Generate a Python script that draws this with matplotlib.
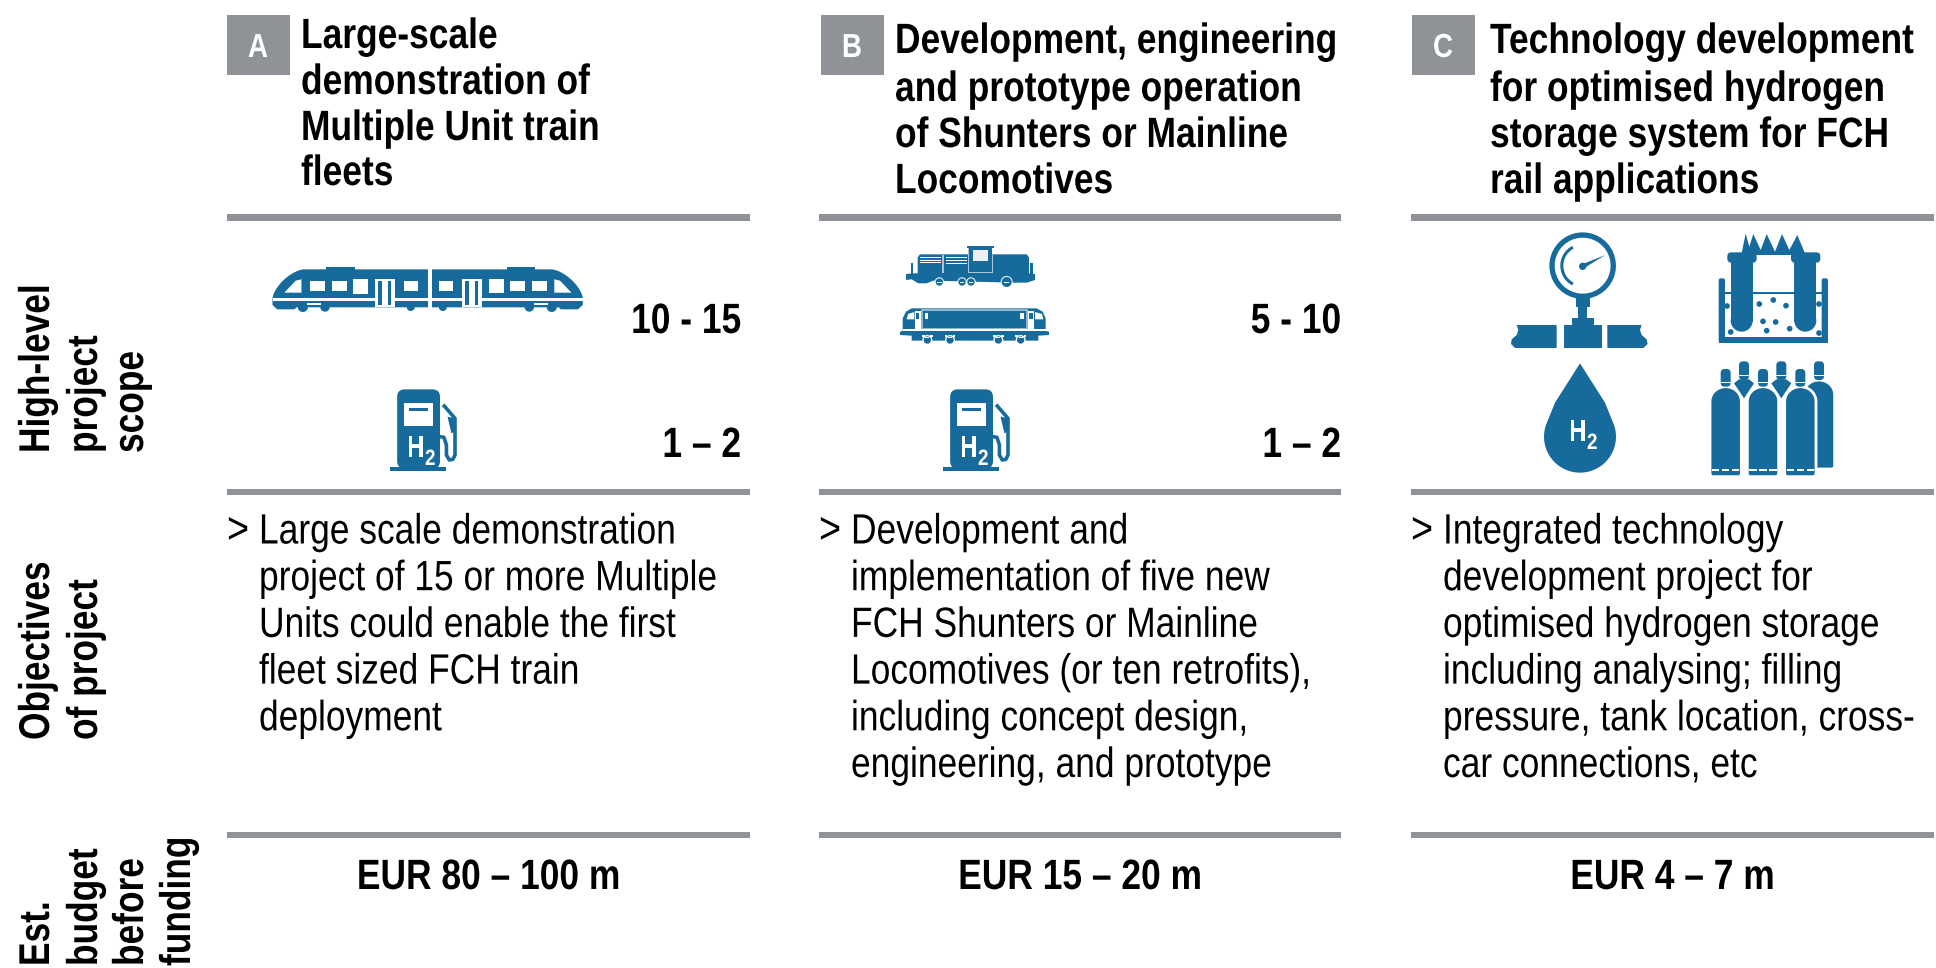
import numpy as np
import matplotlib
matplotlib.use("Agg")
import matplotlib.pyplot as plt
from matplotlib.patches import Rectangle, Polygon, FancyBboxPatch, Wedge
from matplotlib.patheffects import AbstractPathEffect
from matplotlib.text import Text
from matplotlib.transforms import Affine2D, Bbox

BLUE = "#176b9c"
GREY = "#8f9398"
FONT = "Liberation Sans"
SQUEEZE = 0.835

letters = ["A", "B", "C"]
titles = [
    ["Large-scale", "demonstration of", "Multiple Unit train", "fleets"],
    ["Development, engineering", "and prototype operation", "of Shunters or Mainline", "Locomotives"],
    ["Technology development", "for optimised hydrogen", "storage system for FCH", "rail applications"],
]
scope_top = ["10 - 15", "5 - 10", None]
scope_bottom = ["1 – 2", "1 – 2", None]
objectives = [
    ["Large scale demonstration", "project of 15 or more Multiple", "Units could enable the first",
     "fleet sized FCH train", "deployment"],
    ["Development and", "implementation of five new", "FCH Shunters or Mainline",
     "Locomotives (or ten retrofits),", "including concept design,", "engineering, and prototype"],
    ["Integrated technology", "development project for", "optimised hydrogen storage",
     "including analysing; filling", "pressure, tank location, cross-", "car connections, etc"],
]
budgets = ["EUR 80 – 100 m", "EUR 15 – 20 m", "EUR 4 – 7 m"]
row_labels = [["High-level", "project", "scope"], ["Objectives", "of project"],
              ["Est.", "budget", "before", "funding"]]

col_left = [227, 819, 1411]
col_right = [750, 1341, 1934]
box_left = [227, 821, 1412]
title_x = [301, 895, 1490]
title_base = [[48, 94, 140, 185], [53, 101, 147, 193], [53, 101, 147, 193]]
scope_right = [741, 1341]
rule_y = [217, 492, 835]
label_bottom = [453, 740, 966]
label_x = [49, 97, 143, 190]

fig = plt.figure(figsize=(19.36, 9.68), dpi=100)
ax = fig.add_axes([0, 0, 1, 1])
ax.set_xlim(0, 1936)
ax.set_ylim(968, 0)
ax.axis("off")


# no narrow font is installed, so the glyph outlines get squeezed at draw time
class Squeeze(AbstractPathEffect):
    def __init__(self, sx):
        super().__init__()
        self.sx = sx

    def draw_path(self, renderer, gc, tpath, affine, rgbFace=None):
        renderer.draw_path(gc, tpath, Affine2D().scale(self.sx, 1) + affine, rgbFace)


class NarrowText(Text):
    def __init__(self, *args, sx=SQUEEZE, **kwargs):
        super().__init__(*args, **kwargs)
        self.sx = sx
        self.set_path_effects([Squeeze(sx)])

    def _get_layout(self, renderer):
        bbox, info, descent = super()._get_layout(renderer)
        s = self.sx
        if self.get_rotation() == 90:
            bbox = Bbox.from_bounds(bbox.x0, bbox.y0 * s, bbox.width, bbox.height * s)
            return bbox, info, descent
        bbox = Bbox.from_bounds(bbox.x0 * s, bbox.y0, bbox.width * s, bbox.height)
        return bbox, [(l, wh, x * s, y) for l, wh, x, y in info], descent


def ntext(x, y, s, size=30.5, weight="normal", ha="left", color="black", z=3, sx=SQUEEZE, rot=0):
    ax.add_artist(NarrowText(x, y, s, sx=sx, fontsize=size, family=FONT, weight=weight, ha=ha, va="baseline",
                             color=color, zorder=z, rotation=rot, rotation_mode="anchor"))


def zoom_tr(x0, y0, kx, ky):
    return Affine2D().scale(1 / kx, 1 / ky).translate(x0, y0) + ax.transData


def rect(tr, x0, y0, x1, y1, c=BLUE, z=3):
    ax.add_patch(Rectangle((x0, y0), x1 - x0, y1 - y0, fc=c, ec="none", transform=tr, zorder=z))


def poly(tr, pts, c=BLUE, z=3):
    ax.add_patch(Polygon(pts, closed=True, fc=c, ec="none", transform=tr, zorder=z))


def circ(tr, x, y, r, c=BLUE, z=3):
    t = np.linspace(0, 2 * np.pi, 40)
    poly(tr, np.c_[x + r * np.cos(t), y + r * np.sin(t)], c, z)


def rbox(tr, x0, y0, x1, y1, r, c=BLUE, z=3):
    ax.add_patch(FancyBboxPatch((x0 + r, y0 + r), x1 - x0 - 2 * r, y1 - y0 - 2 * r,
                                boxstyle=f"round,pad={r},rounding_size={r}", fc=c, ec="none",
                                transform=tr, zorder=z))


def h2(x, y):
    ntext(x, y, "H", 22, "bold", "right", "white", 6, 0.78)
    ntext(x + 1, y + 8, "2", 16, "bold", "left", "white", 6, 0.85)


def draw_train():
    tr = zoom_tr(200, 200, 2.8, 3)
    t = np.linspace(0, np.pi / 2, 12)
    nose_l = np.c_[290 - 87 * np.cos(t) ** 1.3, 295 - 87 * np.sin(t) ** 1.3]
    nose_r = np.c_[985 + 87 * np.sin(t) ** 1.3, 295 - 87 * np.cos(t) ** 1.3]
    low = [[1072, 315], [1058, 328], [1010, 328], [1005, 322], [640, 322], [270, 322], [265, 328],
           [216, 328], [203, 315]]
    poly(tr, np.vstack([nose_l, nose_r, low]))
    rect(tr, 353, 200, 433, 210)
    rect(tr, 860, 200, 938, 210)
    for x0, y0, x1, y1 in [(308, 243, 349, 274), (370, 243, 411, 274), (428, 237, 469, 283),
                           (570, 243, 611, 274), (668, 243, 709, 274), (810, 237, 850, 279),
                           (868, 243, 909, 274), (930, 243, 971, 274)]:
        rect(tr, x0, y0, x1, y1, "white", 4)
    poly(tr, [(236, 278), (284, 278), (284, 238), (268, 242)], "white", 4)
    poly(tr, [(1040, 278), (992, 278), (992, 238), (1008, 242)], "white", 4)
    rect(tr, 203, 294, 1072, 302, "white", 4)
    rect(tr, 637, 208, 650, 332, "white", 5)
    for dx in (495, 739):
        rect(tr, dx - 5, 238, dx + 50, 320, "white", 4)
        rect(tr, dx + 4, 244, dx + 14, 314, BLUE, 5)
        rect(tr, dx + 30, 244, dx + 40, 314, BLUE, 5)
    for x, r in [(288, 14), (350, 13), (590, 11), (680, 11), (922, 13), (985, 14)]:
        circ(tr, x, 322, r, z=5)
    rect(tr, 300, 309, 340, 316, "white", 5)
    rect(tr, 935, 309, 975, 316, "white", 5)


def draw_pump(dx):
    tr = zoom_tr(200 + dx, 200, 2.8, 3)
    rbox(tr, 552, 568, 672, 806, 22)
    rect(tr, 532, 802, 690, 812)
    rect(tr, 571, 610, 652, 677, "white", 4)
    rect(tr, 584, 624, 638, 634, BLUE, 5)
    hose = np.array([[672, 710], [683, 712], [690, 735], [690, 765], [698, 780], [708, 778],
                     [714, 765], [714, 655], [684, 618]])
    ax.plot(hose[:, 0], hose[:, 1], color=BLUE, lw=2.6, transform=tr, zorder=3)
    poly(tr, [(693, 650), (716, 655), (714, 695), (704, 700)])
    h2(424 + dx, 457)


def draw_locos():
    tr = zoom_tr(880, 220, 3, 3)
    # shunter
    poly(tr, [(113, 112), (120, 103), (440, 103), (447, 112), (447, 160), (465, 162), (465, 180),
              (440, 188), (400, 188), (160, 182), (140, 190), (115, 190), (95, 178), (78, 180), (78, 162),
              (100, 160), (113, 160)])
    rect(tr, 92, 130, 100, 165)
    rect(tr, 450, 130, 460, 165)
    rect(tr, 268, 85, 336, 158)
    rect(tr, 262, 78, 342, 85)
    rect(tr, 279, 90, 325, 123, "#eeeeee", 4)
    rect(tr, 187, 105, 191, 158, "#a9c6d8", 4)
    rect(tr, 265, 85, 268, 158, "#a9c6d8", 4)
    rect(tr, 336, 105, 339, 158, "#a9c6d8", 4)
    rect(tr, 268, 155, 336, 158, "#a9c6d8", 4)
    for y in (111, 120, 127):
        rect(tr, 120, y, 182, y + 3, "white", 4)
    for y in (111, 120, 130):
        rect(tr, 198, y, 260, y + 3, "white", 4)
    for x, r in [(178, 14), (246, 14), (273, 14), (380, 18)]:
        circ(tr, x, 186, r, "white", 5)
        circ(tr, x, 186, r - 3, BLUE, 5)
        rect(tr, x - 7, 185, x + 7, 188, "white", 6)
    # mainline
    poly(tr, [(68, 295), (78, 275), (95, 265), (470, 265), (488, 275), (497, 295), (497, 333), (507, 335), (507, 345),
              (475, 347), (475, 362), (95, 362), (95, 347), (60, 345), (60, 335), (68, 333)])
    rect(tr, 105, 272, 123, 328, "white", 4)
    rect(tr, 443, 272, 463, 328, "white", 4)
    rect(tr, 108, 278, 118, 298, BLUE, 5)
    rect(tr, 447, 278, 458, 298, BLUE, 5)
    poly(tr, [(80, 298), (84, 282), (103, 276), (103, 298)], "white", 4)
    poly(tr, [(490, 298), (486, 282), (465, 276), (465, 298)], "white", 4)
    rect(tr, 134, 278, 145, 298, "white", 4)
    rect(tr, 421, 278, 432, 298, "white", 4)
    ax.add_patch(Rectangle((127, 270), 314, 57, fc="none", ec="#a9c6d8", lw=1.2, transform=tr, zorder=4))
    rect(tr, 70, 328, 497, 334, "white", 4)
    for x in (142, 210, 355, 422):
        circ(tr, x, 360, 15, "white", 5)
        circ(tr, x, 360, 11, BLUE, 5)
        rect(tr, x - 16, 345, x - 8, 351, "white", 5)
        rect(tr, x + 9, 345, x + 16, 351, "white", 5)
        rect(tr, x - 6, 352, x + 6, 355, "white", 6)


def draw_gauge(tr):
    circ(tr, 308, 137, 100)
    circ(tr, 308, 137, 84, "white", 4)
    ax.add_patch(Wedge((308, 137), 67, 118, 242, width=9, fc=BLUE, ec="none", transform=tr, zorder=5))
    circ(tr, 308, 139, 11, z=5)
    poly(tr, [(306, 133), (376, 105), (311, 145)], BLUE, 5)
    rect(tr, 287, 235, 330, 260)
    rect(tr, 295, 260, 320, 293)
    rect(tr, 277, 293, 341, 315)
    rect(tr, 252, 315, 365, 384)
    poly(tr, [(110, 315), (230, 315), (230, 384), (105, 384), (93, 372), (95, 358), (110, 345), (115, 330)])
    poly(tr, [(485, 315), (382, 315), (382, 384), (490, 384), (503, 372), (500, 358), (485, 345), (480, 330)])


def draw_beaker(tr):
    for x0 in (716, 1025):
        rbox(tr, x0, 175, x0 + 19, 368, 6)
    rect(tr, 716, 350, 1044, 368)
    rect(tr, 725, 215, 1035, 222)
    for x0 in (752, 943):
        rect(tr, x0, 110, x0 + 66, 305)
        circ(tr, x0 + 33, 302, 33)
        rbox(tr, x0 - 10, 97, x0 + 78, 128, 12)
    rect(tr, 810, 100, 950, 106)
    flame = [(785, 100), (797, 40), (808, 80), (820, 42), (842, 90), (860, 42), (885, 95), (906, 42),
             (928, 90), (952, 45), (975, 100)]
    poly(tr, flame)
    for x, y in [(741, 258), (838, 252), (880, 240), (918, 257), (1017, 252), (849, 304), (887, 306),
                 (860, 332), (929, 326), (752, 336), (1017, 339)]:
        circ(tr, x, y, 8.5, z=4)


def draw_drop(tr):
    a = np.linspace(-0.45, np.pi + 0.45, 50)
    arc = np.c_[300 + 108 * np.cos(a), 650 + 108 * np.sin(a)]
    poly(tr, np.vstack([[[300, 430]], [[375, 548]], arc, [[225, 548]]]))
    h2(1586, 441)


def cylinder(tr, cx, neck_top, shoulder, bottom, hw=47):
    t = np.linspace(0, np.pi, 24)
    top = np.c_[cx - hw * np.cos(t), shoulder + 44 - 44 * np.sin(t)]
    pts = np.vstack([[[cx - hw, bottom - 6]], top, [[cx + hw, bottom - 6]], [[cx + hw - 6, bottom]],
                     [[cx - hw + 6, bottom]]])
    ax.add_patch(Polygon(pts, closed=True, fc=BLUE, ec="white", lw=2, transform=tr, zorder=3))
    rbox(tr, cx - 15, neck_top, cx + 15, shoulder, 12)
    rect(tr, cx - 15, shoulder - 14, cx + 15, shoulder - 11, "white", 4)


def draw_cylinders(tr):
    for cx in (792, 904):
        poly(tr, [(cx - 30, 490), (cx - 15, 478), (cx + 15, 478), (cx + 30, 490), (cx, 535)])
        rbox(tr, cx - 15, 424, cx + 15, 480, 12)
        rect(tr, cx - 15, 465, cx + 15, 468, "white", 4)
    cylinder(tr, 1017, 424, 480, 747)
    for cx in (737, 849, 961):
        cylinder(tr, cx, 447, 500, 770)
        for dx in (-30, 0, 30):
            rect(tr, cx + dx - 11, 748, cx + dx + 11, 754, "white", 5)


for i in range(3):
    for y, h in zip(rule_y, (7, 6, 6)):
        ax.add_patch(Rectangle((col_left[i], y - h / 2), col_right[i] - col_left[i], h, fc=GREY, ec="none"))
    ax.add_patch(Rectangle((box_left[i], 15), 63, 60, fc=GREY, ec="none"))
    ntext(box_left[i] + 31, 57, letters[i], 24, "bold", "center", "white")
    for line, y in zip(titles[i], title_base[i]):
        ntext(title_x[i], y, line, weight="bold")
    if scope_top[i]:
        ntext(scope_right[i], 333, scope_top[i], weight="bold", ha="right")
        ntext(scope_right[i], 457, scope_bottom[i], weight="bold", ha="right")
    ntext(col_left[i], 543, ">", 32, sx=0.85)
    for j, line in enumerate(objectives[i]):
        ntext(col_left[i] + 32, 543.5 + 46.7 * j, line)
    ntext((col_left[i] + col_right[i]) / 2, 889, budgets[i], weight="bold", ha="center")

for lines, bottom in zip(row_labels, label_bottom):
    for j, line in enumerate(lines):
        ntext(label_x[j], bottom, line, 31, "bold", "left", sx=0.82, rot=90)

draw_train()
draw_pump(0)
draw_pump(553)
draw_locos()
tr_c = zoom_tr(1480, 220, 3, 3)
draw_gauge(tr_c)
draw_beaker(tr_c)
draw_drop(tr_c)
draw_cylinders(tr_c)

fig.savefig("out.png", dpi=100, facecolor="white")
